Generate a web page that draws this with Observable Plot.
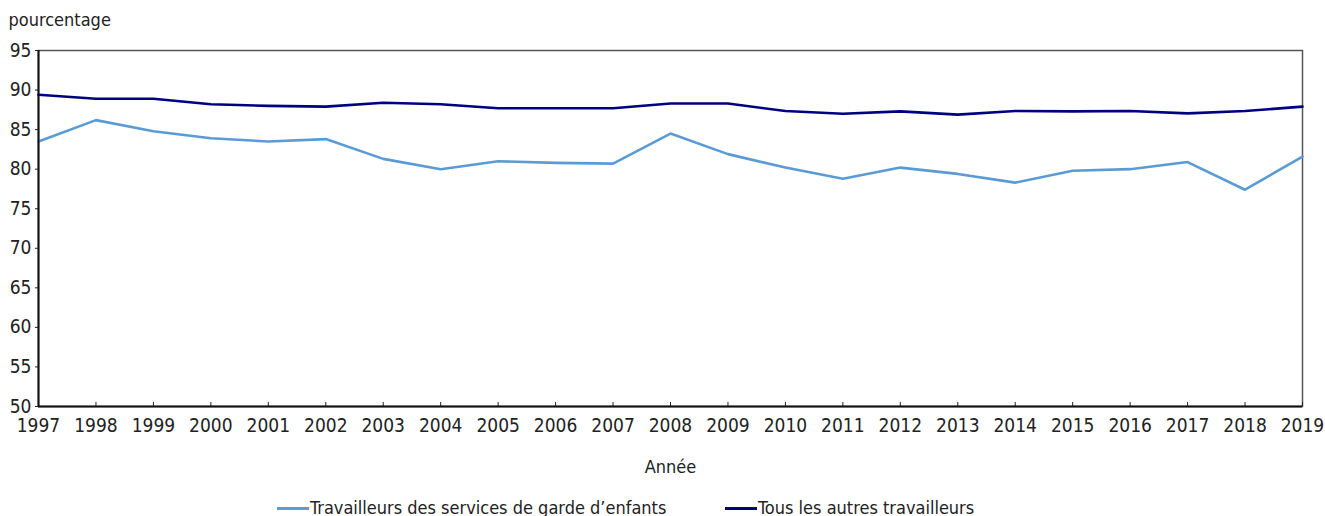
<!DOCTYPE html>
<html>
<head>
<meta charset="utf-8">
<script src="https://cdn.jsdelivr.net/npm/d3@7"></script>
<script src="https://cdn.jsdelivr.net/npm/@observablehq/plot@0.6"></script>
<style>
  html, body { margin: 0; padding: 0; background: #fff; }
  body { width: 1325px; height: 516px; overflow: hidden; position: relative; font-family: "DejaVu Sans Condensed", "Liberation Sans", sans-serif; color: #222; }
  #legend { position: relative; height: 22px; font-size: 18px; line-height: 22px; margin-top: 5px; }
  .item { display: flex; align-items: center; position: absolute; top: 0; white-space: nowrap; }
  .sw { width: 32px; height: 3px; margin-right: 1px; }
</style>
</head>
<body>
<div id="chart"></div>
<div id="legend"></div>
<script>
const years = [1997,1998,1999,2000,2001,2002,2003,2004,2005,2006,2007,2008,2009,2010,2011,2012,2013,2014,2015,2016,2017,2018,2019];
const childcare = [83.5,86.2,84.8,83.9,83.5,83.8,81.3,80.0,81.0,80.8,80.7,84.5,81.9,80.2,78.8,80.2,79.4,78.3,79.8,80.0,80.9,77.4,81.6];
const others = [89.4,88.9,88.9,88.2,88.0,87.9,88.4,88.2,87.7,87.7,87.7,88.3,88.3,87.35,87.0,87.3,86.9,87.35,87.3,87.35,87.05,87.35,87.9];
const seriesNames = ["Travailleurs des services de garde d’enfants", "Tous les autres travailleurs"];
const seriesColors = ["#5b9bd5", "#000080"];
const yTicks = [50,55,60,65,70,75,80,85,90,95];
const yLabel = "pourcentage";
const xLabel = "Année";

const rows = [];
years.forEach((y, i) => {
  rows.push({year: y, value: childcare[i], series: seriesNames[0]});
  rows.push({year: y, value: others[i], series: seriesNames[1]});
});

const font = '"DejaVu Sans Condensed", "Liberation Sans", sans-serif';

const chart = Plot.plot({
  width: 1325,
  height: 492,
  marginLeft: 38,
  marginRight: 23,
  marginTop: 50,
  marginBottom: 86,
  style: {fontFamily: font, fontSize: "19px", color: "#222", background: "#fff"},
  x: {domain: [1997, 2019], ticks: years, tickFormat: d => String(d), tickSize: 0, tickPadding: 12, label: null},
  y: {domain: [50, 95], ticks: yTicks, tickSize: 3, tickPadding: 4, label: null},
  color: {domain: seriesNames, range: seriesColors},
  marks: [
    Plot.frame({stroke: "#555", strokeWidth: 1.5}),
    Plot.tickX(years, {x: d => d, stroke: "#222", insetTop: 352}),
    Plot.line(rows, {x: "year", y: "value", z: "series", stroke: "series", strokeWidth: 2.6}),
    Plot.ruleY([50], {stroke: "#111", strokeWidth: 2}),
    Plot.ruleX([1997], {stroke: "#111", strokeWidth: 2}),
    Plot.text([yLabel], {text: d => d, frameAnchor: "top-left", dx: -30, dy: -30, textAnchor: "start", lineAnchor: "middle", fill: "#222", fontSize: 18}),
    Plot.text([xLabel], {text: d => d, frameAnchor: "bottom", dy: 61, textAnchor: "middle", lineAnchor: "middle", fill: "#222", fontSize: 18})
  ]
});
document.getElementById("chart").appendChild(chart);

const legend = document.getElementById("legend");
const lefts = [277, 725];
seriesNames.forEach((name, i) => {
  const item = document.createElement("div");
  item.className = "item";
  item.style.left = lefts[i] + "px";
  const sw = document.createElement("span");
  sw.className = "sw";
  sw.style.background = seriesColors[i];
  const t = document.createElement("span");
  t.textContent = name;
  item.appendChild(sw);
  item.appendChild(t);
  legend.appendChild(item);
});
</script>
</body>
</html>
